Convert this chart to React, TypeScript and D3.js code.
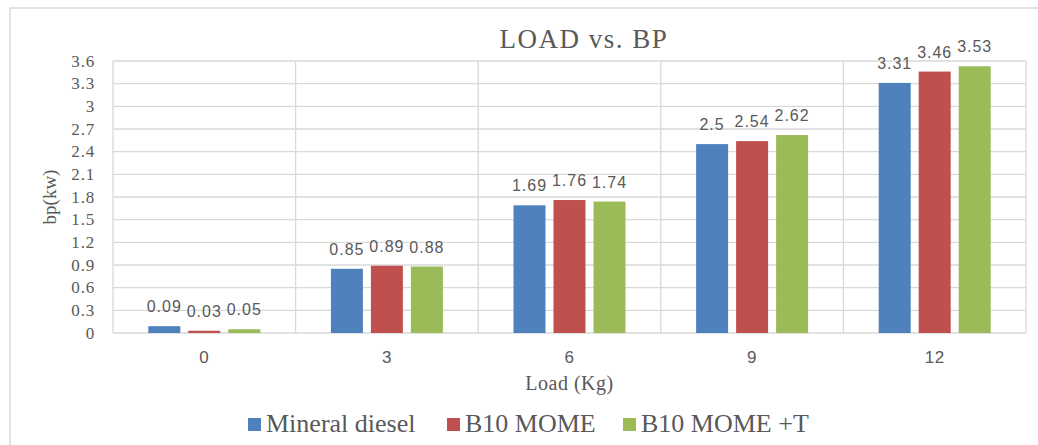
import React from "react";
import * as d3 from "d3";

const categories = ["0", "3", "6", "9", "12"];
const seriesNames = ["Mineral diesel", "B10 MOME", "B10 MOME +T"];
const mineralDiesel = [0.09, 0.85, 1.69, 2.5, 3.31];
const b10Mome = [0.03, 0.89, 1.76, 2.54, 3.46];
const b10MomeT = [0.05, 0.88, 1.74, 2.62, 3.53];
const yTicks = [0, 0.3, 0.6, 0.9, 1.2, 1.5, 1.8, 2.1, 2.4, 2.7, 3, 3.3, 3.6];
const colors = ["#4F81BD", "#C0504D", "#9BBB59"];

const W = 1038;
const H = 445;
const plot = { left: 113, right: 1026, top: 61, bottom: 333 };

export default function App() {
  const seriesValues = [mineralDiesel, b10Mome, b10MomeT];
  const x0 = d3.scaleBand<string>().domain(categories).range([plot.left, plot.right]).paddingInner(0).paddingOuter(0);
  const groupW = 112;
  const x1 = d3.scaleBand<string>().domain(seriesNames).range([0, groupW]).paddingInner(0.2).paddingOuter(0);
  const y = d3.scaleLinear().domain([0, 3.6]).range([plot.bottom, plot.top]);
  const fmt = (v: number) => String(v);
  const legendX = [248, 447, 623];
  const grid = "#D9D9D9";
  const serif = "'Liberation Serif', 'Times New Roman', serif";
  const sans = "'Liberation Sans', Arial, sans-serif";

  return (
    <svg width={W} height={H} style={{ position: "absolute", left: 0, top: 0, background: "#fff" }}>
      <rect x={10} y={8} width={W + 20} height={H + 20} fill="#fff" stroke={grid} strokeWidth={1.5} />
      <text x={584} y={48} textAnchor="middle" fontFamily={serif} fontSize={27} letterSpacing={1.5} fill="#595959">
        LOAD vs. BP
      </text>
      {yTicks.map((t) => (
        <g key={t}>
          <line x1={plot.left} x2={plot.right} y1={y(t)} y2={y(t)} stroke={grid} strokeWidth={1.3} />
          <text x={95} y={y(t) + 5.5} textAnchor="end" fontFamily={serif} fontSize={17} letterSpacing={0.8} fill="#595959">
            {fmt(t)}
          </text>
        </g>
      ))}
      {categories.map((c) => (
        <line key={"v" + c} x1={x0(c)} x2={x0(c)} y1={plot.top} y2={plot.bottom} stroke={grid} strokeWidth={1.3} />
      ))}
      <line x1={plot.right} x2={plot.right} y1={plot.top} y2={plot.bottom} stroke={grid} strokeWidth={1.3} />
      {categories.map((c, ci) => {
        const gx = (x0(c) as number) + (x0.bandwidth() - groupW) / 2;
        return (
          <g key={"g" + c}>
            {seriesNames.map((s, si) => {
              const v = seriesValues[si][ci];
              const bx = gx + (x1(s) as number);
              return (
                <g key={s}>
                  <rect x={bx} y={y(v)} width={x1.bandwidth()} height={plot.bottom - y(v)} fill={colors[si]} />
                  <text
                    x={bx + x1.bandwidth() / 2}
                    y={y(v) - 14}
                    textAnchor="middle"
                    fontFamily={sans}
                    fontSize={16}
                    letterSpacing={1}
                    fill="#595959"
                  >
                    {fmt(v)}
                  </text>
                </g>
              );
            })}
            <text
              x={(x0(c) as number) + x0.bandwidth() / 2}
              y={363}
              textAnchor="middle"
              fontFamily={sans}
              fontSize={17}
              letterSpacing={0.5}
              fill="#595959"
            >
              {c}
            </text>
          </g>
        );
      })}
      <text
        x={(plot.left + plot.right) / 2}
        y={390}
        textAnchor="middle"
        fontFamily={serif}
        fontSize={20}
        letterSpacing={0.5}
        fill="#595959"
      >
        Load (Kg)
      </text>
      <text
        transform={`translate(56, 197) rotate(-90)`}
        textAnchor="middle"
        fontFamily={serif}
        fontSize={19}
        fill="#595959"
      >
        bp(kw)
      </text>
      {seriesNames.map((s, i) => (
        <g key={"l" + s}>
          <rect x={legendX[i]} y={418} width={13} height={13} fill={colors[i]} />
          <text x={legendX[i] + 18} y={432} fontFamily={serif} fontSize={26} fill="#595959">
            {s}
          </text>
        </g>
      ))}
    </svg>
  );
}
